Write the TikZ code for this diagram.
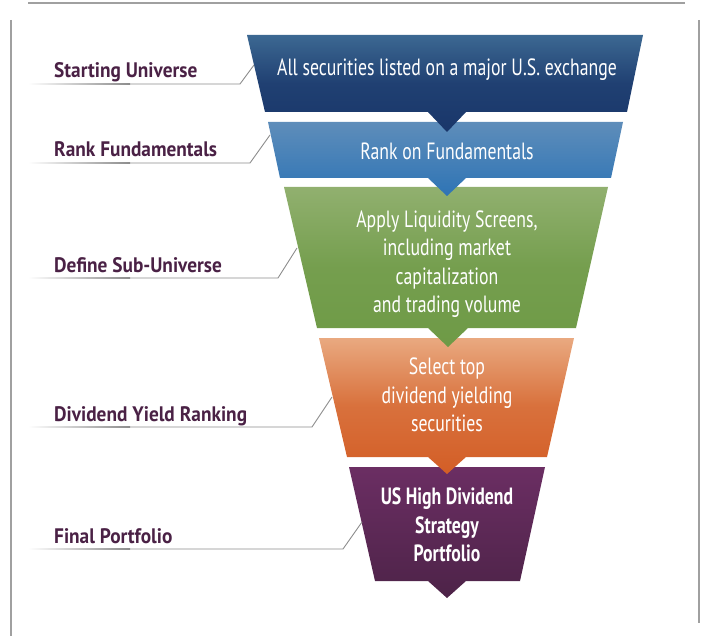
\documentclass[tikz,border=0pt]{standalone}
\usepackage{fontspec}
\newfontfamily\boxfont{PT Sans}[FakeStretch=0.755]
\newfontfamily\labfont{PT Sans}[FakeStretch=0.92]
\definecolor{navyT}{HTML}{3C6892}
\definecolor{navyB}{HTML}{19366A}
\definecolor{blueT}{HTML}{5E8DBA}
\definecolor{blueB}{HTML}{2E74B5}
\definecolor{greenT}{HTML}{91B06F}
\definecolor{greenB}{HTML}{6E9A46}
\definecolor{orangeT}{HTML}{E9A980}
\definecolor{orangeB}{HTML}{D35E26}
\definecolor{purpleT}{HTML}{6B2E63}
\definecolor{purpleB}{HTML}{4D2348}
\definecolor{labelcol}{HTML}{4A2145}
\definecolor{leadgray}{HTML}{8C8C8C}
\definecolor{framegray}{HTML}{A0A0A0}
\begin{document}
\begin{tikzpicture}[x=1pt,y=-1pt,
  boxtext/.style={text=white, align=center, inner sep=0pt, font=\boxfont\fontsize{23.5}{28.5}\selectfont},
  boldbox/.style={boxtext, font=\boxfont\bfseries\fontsize{23.5}{28.5}\selectfont},
  labeltext/.style={text=labelcol, anchor=base west, inner sep=0pt, font=\labfont\bfseries\fontsize{21}{24}\selectfont},
  leader/.style={draw=leadgray, line width=0.9pt},
  framestyle/.style={draw=framegray, line width=1.3pt}]
\useasboundingbox (0,0) rectangle (703,636);

% frame
\coordinate (ftl) at (28,3);
\coordinate (ftr) at (685,3);
\coordinate (fl1) at (11,20);
\coordinate (fl2) at (11,636);
\coordinate (fr1) at (699,20);
\coordinate (fr2) at (699,623);
\draw[framestyle] (ftl) -- (ftr);
\draw[framestyle] (fl1) -- (fl2);
\draw[framestyle] (fr1) -- (fr2);

% funnel segments, bottom first so the upper arrow tips lie on top
\shade[top color=purpleT, bottom color=purpleB]
  (349,467) -- (545,467) -- (520,581) -- (466,581) -- (447,598) -- (428,581) -- (375,581) -- cycle;
\shade[top color=orangeT, bottom color=orangeB, middle color=orangeB!75!orangeT]
  (319,338) -- (574,338) -- (547,457) -- (466,457) -- (447,474) -- (428,457) -- (347,457) -- cycle;
\shade[top color=greenT, bottom color=greenB, middle color=greenB!80!greenT]
  (284,187) -- (608,187) -- (576,328) -- (468,328) -- (448,347) -- (428,328) -- (317,328) -- cycle;
\shade[top color=blueT, bottom color=blueB]
  (268,122) -- (623,122) -- (611,178) -- (466,178) -- (447,196) -- (428,178) -- (280,178) -- cycle;
\shade[top color=navyT, bottom color=navyB, middle color=navyB!80!navyT]
  (247,35) -- (643,35) -- (627,112) -- (466,112) -- (447,132) -- (428,112) -- (265,112) -- cycle;

% texts in the funnel
\node[boxtext] (b1) at (447,70) {All securities listed on a major U.S. exchange};
\node[boxtext] (b2) at (447,151.5) {Rank on Fundamentals};
\node[boxtext] (b3) at (447,264) {Apply Liquidity Screens,\\including market\\capitalization\\and trading volume};
\node[boxtext] (b4) at (447,395) {Select top\\dividend yielding\\securities};
\node[boldbox] (b5) at (447,525) {US High Dividend\\Strategy\\Portfolio};

% left labels
\node[labeltext] (l1) at (54,78) {Starting Universe};
\node[labeltext] (l2) at (54,157) {Rank Fundamentals};
\node[labeltext] (l3) at (54,272) {Define Sub-Universe};
\node[labeltext] (l4) at (54,421) {Dividend Yield Ranking};
\node[labeltext] (l5) at (54,543) {Final Portfolio};

% leader lines
\foreach \i/\y/\bx/\ex/\ey in {1/84/240/254/65, 2/163/250/270/135, 3/278/278/297/248, 4/427/312/332/397, 5/549/343/362/522}{
  \coordinate (s\i) at (28,\y);
  \coordinate (m\i) at (130,\y);
  \coordinate (k\i) at (\bx,\y);
  \coordinate (e\i) at (\ex,\ey);
  \shade[left color=white, right color=leadgray] (28,\y-0.45) rectangle (130,\y+0.45);
  \draw[leader] (m\i) -- (k\i) -- (e\i);
}
\end{tikzpicture}
\end{document}
